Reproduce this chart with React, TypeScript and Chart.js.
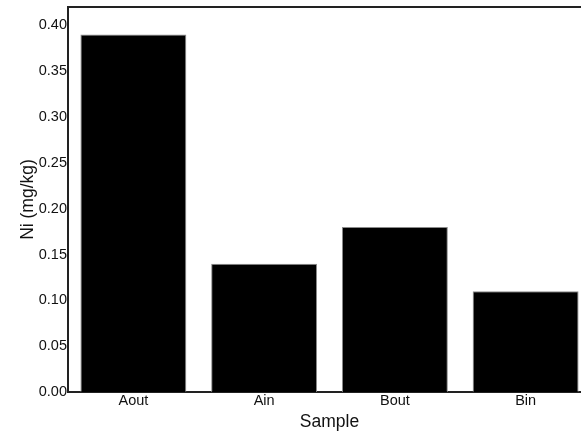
import React, { useEffect, useRef } from "react";
import { Chart, registerables } from "chart.js";

Chart.register(...registerables);

const categories = ["Aout", "Ain", "Bout", "Bin"];
const niValues = [0.39, 0.14, 0.18, 0.11];
const yTickValues = [0, 0.05, 0.1, 0.15, 0.2, 0.25, 0.3, 0.35, 0.4];
const yMax = 0.42;
const xTitle = "Sample";
const yTitle = "Ni (mg/kg)";

const FONT = "'Liberation Sans', Arial, sans-serif";

const frameLine = {
  id: "frameLine",
  afterDatasetsDraw(chart: any) {
    const { ctx, chartArea } = chart;
    ctx.save();
    ctx.strokeStyle = "#222";
    ctx.lineWidth = 2;
    ctx.beginPath();
    ctx.moveTo(chartArea.left, chartArea.top);
    ctx.lineTo(chartArea.right, chartArea.top);
    ctx.stroke();
    ctx.restore();
  },
};

export default function App() {
  const ref = useRef<HTMLCanvasElement>(null);
  useEffect(() => {
    if (!ref.current) return;
    const chart = new Chart(ref.current, {
      type: "bar",
      data: {
        labels: categories,
        datasets: [
          {
            data: niValues,
            backgroundColor: "#000000",
            borderColor: "#8a8a8a",
            borderWidth: 1,
            categoryPercentage: 1,
            barPercentage: 0.81,
          },
        ],
      },
      plugins: [frameLine],
      options: {
        responsive: false,
        animation: false,
        layout: { padding: { top: 7, right: 9, left: 0, bottom: 0 } },
        plugins: { legend: { display: false }, tooltip: { enabled: false } },
        scales: {
          x: {
            grid: { display: false, drawTicks: false },
            border: { display: true, color: "#222", width: 2 },
            ticks: { font: { family: FONT, size: 14.5 }, color: "#111", padding: 0 },
            title: {
              display: true,
              text: xTitle,
              font: { family: FONT, size: 17.5 },
              color: "#111",
              padding: { top: 0, bottom: 4 },
            },
            afterFit: (s: any) => {
              s.height = 45;
              s.paddingLeft = 0;
              s.paddingRight = 0;
            },
          },
          y: {
            min: 0,
            max: yMax,
            grid: { display: false, drawTicks: false },
            border: { display: true, color: "#222", width: 2 },
            afterBuildTicks: (s: any) => {
              s.ticks = yTickValues.map((v) => ({ value: v }));
            },
            ticks: {
              font: { family: FONT, size: 14.5 },
              color: "#111",
              padding: 1,
              callback: (v: any) => Number(v).toFixed(2),
            },
            title: {
              display: true,
              text: yTitle,
              font: { family: FONT, size: 17.5 },
              color: "#111",
              padding: { top: 18, bottom: 0 },
            },
            afterFit: (s: any) => {
              s.width = 68;
              s.paddingTop = 0;
              s.paddingBottom = 0;
            },
          },
        },
      },
    });
    return () => chart.destroy();
  }, []);
  return (
    <div
      style={{
        position: "absolute",
        left: 0,
        top: 0,
        width: 581,
        height: 437,
        overflow: "hidden",
        background: "#fff",
      }}
    >
      <canvas ref={ref} width={600} height={437} style={{ display: "block" }} />
    </div>
  );
}
